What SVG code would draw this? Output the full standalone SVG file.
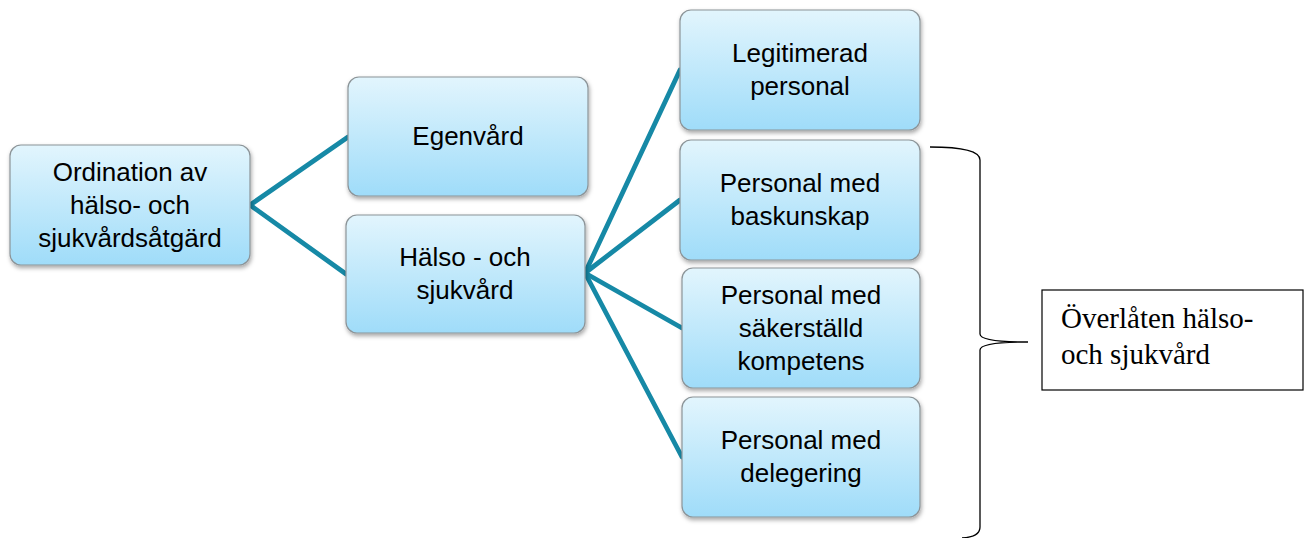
<svg xmlns="http://www.w3.org/2000/svg" width="1309" height="538" viewBox="0 0 1309 538">
<style>
.box{fill:url(#g);stroke:#8c9498;stroke-width:1.2;filter:url(#sh)}
.t{font-family:"Liberation Sans",Arial,sans-serif;font-size:26px;fill:#000;text-anchor:middle}
.c{stroke:#1689a6;stroke-width:4.8;fill:none;stroke-linecap:round}
.s{font-family:"Liberation Serif","Times New Roman",serif;font-size:29px;fill:#000}
</style>
<defs>
<linearGradient id="g" x1="0" y1="0" x2="0" y2="1">
<stop offset="0" stop-color="#e2f5fd"/>
<stop offset="1" stop-color="#9fdcf9"/>
</linearGradient>
<filter id="sh" x="-10%" y="-10%" width="125%" height="130%">
<feDropShadow dx="1" dy="2.5" stdDeviation="2" flood-color="#000" flood-opacity="0.35"/>
</filter>
</defs>
<g id="connectors">
<line class="c" x1="250" y1="205" x2="348" y2="137"/>
<line class="c" x1="250" y1="205" x2="346" y2="274"/>
<line class="c" x1="585" y1="273" x2="680" y2="70"/>
<line class="c" x1="585" y1="273" x2="680" y2="200"/>
<line class="c" x1="585" y1="273" x2="682" y2="328"/>
<line class="c" x1="585" y1="273" x2="682" y2="457"/>
</g>
<g id="n-ordination">
<rect class="box" x="10" y="145" width="240" height="120" rx="11"/>
<text class="t" x="130" y="181">Ordination av</text>
<text class="t" x="130" y="214">hälso- och</text>
<text class="t" x="130" y="247">sjukvårdsåtgärd</text>
</g>
<g id="n-egenvard">
<rect class="box" x="348" y="77" width="240" height="119" rx="11"/>
<text class="t" x="468" y="145">Egenvård</text>
</g>
<g id="n-halso">
<rect class="box" x="346" y="215" width="239" height="118" rx="11"/>
<text class="t" x="465" y="266">Hälso - och</text>
<text class="t" x="465" y="299">sjukvård</text>
</g>
<g id="n-legitimerad">
<rect class="box" x="680" y="10" width="240" height="120" rx="11"/>
<text class="t" x="800" y="62">Legitimerad</text>
<text class="t" x="800" y="95">personal</text>
</g>
<g id="n-baskunskap">
<rect class="box" x="680" y="140" width="240" height="120" rx="11"/>
<text class="t" x="800" y="192">Personal med</text>
<text class="t" x="800" y="225">baskunskap</text>
</g>
<g id="n-kompetens">
<rect class="box" x="682" y="268" width="238" height="120" rx="11"/>
<text class="t" x="801" y="304">Personal med</text>
<text class="t" x="801" y="337">säkerställd</text>
<text class="t" x="801" y="370">kompetens</text>
</g>
<g id="n-delegering">
<rect class="box" x="682" y="397" width="238" height="120" rx="11"/>
<text class="t" x="801" y="449">Personal med</text>
<text class="t" x="801" y="482">delegering</text>
</g>
<g id="brace">
<path d="M930,147 Q980,147 980,160 L980,334 Q980,342 1028,342 Q980,342 980,350 L980,527 Q980,537 962,538" fill="none" stroke="#000" stroke-width="1.3"/>
</g>
<g id="n-overlaten">
<rect x="1042" y="290" width="261" height="100" fill="#fff" stroke="#000" stroke-width="1.2"/>
<text class="s" x="1061" y="328">Överlåten hälso-</text>
<text class="s" x="1061" y="364">och sjukvård</text>
</g>
</svg>
